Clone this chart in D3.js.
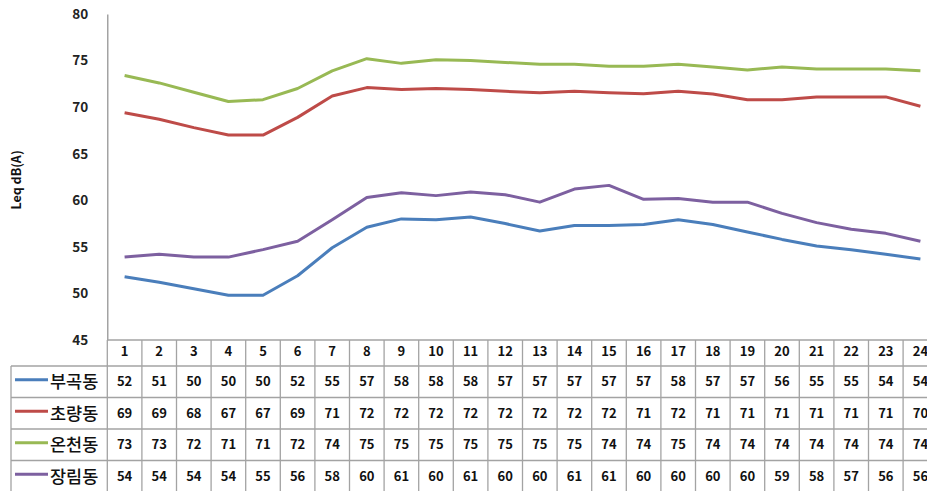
<!DOCTYPE html>
<html>
<head>
<meta charset="utf-8">
<script src="https://cdn.jsdelivr.net/npm/d3@7"></script>
<style>
body { margin: 0; background: #fff; }
text { font-family: "Noto Sans CJK KR", "DejaVu Sans", sans-serif; font-weight: bold; }
</style>
</head>
<body>
<div id="chart"></div>
<script>
// hours on the x axis
var hours = [1,2,3,4,5,6,7,8,9,10,11,12,13,14,15,16,17,18,19,20,21,22,23,24];
var names = ["부곡동", "초량동", "온천동", "장림동"];
var colors = ["#4a7ebb", "#be4b48", "#98b954", "#7d60a0"];

// line values
var bugok   = [51.8,51.2,50.5,49.8,49.8,51.9,54.9,57.1,58.0,57.9,58.2,57.5,56.7,57.3,57.3,57.4,57.9,57.4,56.6,55.8,55.1,54.7,54.2,53.7];
var choryang= [69.4,68.7,67.8,67.0,67.0,68.9,71.2,72.1,71.9,72.0,71.9,71.7,71.55,71.7,71.55,71.45,71.7,71.4,70.8,70.8,71.1,71.1,71.1,70.1];
var oncheon = [73.4,72.6,71.6,70.6,70.8,72.0,73.9,75.2,74.7,75.1,75.0,74.8,74.6,74.6,74.4,74.4,74.6,74.3,74.0,74.3,74.1,74.1,74.1,73.9];
var jangrim = [53.9,54.2,53.9,53.9,54.7,55.6,57.9,60.3,60.8,60.5,60.9,60.6,59.8,61.2,61.6,60.1,60.2,59.8,59.8,58.6,57.6,56.9,56.45,55.6];
var series = [bugok, choryang, oncheon, jangrim];

// values printed in the data table
var tBugok    = [52,51,50,50,50,52,55,57,58,58,58,57,57,57,57,57,58,57,57,56,55,55,54,54];
var tChoryang = [69,69,68,67,67,69,71,72,72,72,72,72,72,72,72,71,72,71,71,71,71,71,71,70];
var tOncheon  = [73,73,72,71,71,72,74,75,75,75,75,75,75,75,74,74,75,74,74,74,74,74,74,74];
var tJangrim  = [54,54,54,54,55,56,58,60,61,60,61,60,60,61,61,60,60,60,60,59,58,57,56,56];
var table = [tBugok, tChoryang, tOncheon, tJangrim];

var yTicks = [45,50,55,60,65,70,75,80];

var W = 927, H = 491;
var plotLeft = 107.3, colW = 34.6;
var plotTop = 14, plotBottom = 340;
var headH = 26, rowH = 31.5, legLeft = 11;
var gridColor = "#a3a3a3";

var svg = d3.select("#chart").append("svg")
  .attr("width", W).attr("height", H);

var x = d3.scaleBand().domain(hours).range([plotLeft, plotLeft + colW * hours.length]).padding(0);
var y = d3.scaleLinear().domain([45, 80]).range([plotBottom, plotTop]);

// y axis
var yAxis = svg.append("g")
  .attr("transform", "translate(" + plotLeft + ",0)")
  .call(d3.axisLeft(y).tickValues(yTicks).tickSize(0).tickPadding(19));
yAxis.select(".domain").attr("stroke", "#8c8c8c").attr("stroke-width", 1.2);
yAxis.selectAll("text").style("font-size", "13.5px").attr("fill", "#222");

svg.append("text")
  .attr("transform", "translate(21,180) rotate(-90)")
  .attr("text-anchor", "middle")
  .style("font-size", "12.5px")
  .attr("fill", "#111")
  .text("Leq dB(A)");

// header numbers under the plot
var xAxis = svg.append("g")
  .attr("transform", "translate(0," + plotBottom + ")")
  .call(d3.axisBottom(x).tickSize(0).tickPadding(7));
xAxis.select(".domain").remove();
xAxis.selectAll("text").style("font-size", "13px").attr("fill", "#111");

// table grid
var tableBottom = plotBottom + headH + rowH * names.length;
var grid = svg.append("g").attr("stroke", gridColor).attr("stroke-width", 1.3);
grid.append("line").attr("x1", plotLeft).attr("x2", W + 20).attr("y1", plotBottom).attr("y2", plotBottom);
grid.append("line").attr("x1", legLeft).attr("x2", W + 20).attr("y1", plotBottom + headH).attr("y2", plotBottom + headH);
names.forEach(function (n, i) {
  var yy = plotBottom + headH + rowH * (i + 1);
  grid.append("line").attr("x1", legLeft).attr("x2", W + 20).attr("y1", yy).attr("y2", yy);
});
hours.forEach(function (h) {
  grid.append("line").attr("x1", x(h)).attr("x2", x(h)).attr("y1", plotBottom).attr("y2", tableBottom);
});
grid.append("line").attr("x1", legLeft).attr("x2", legLeft).attr("y1", plotBottom + headH).attr("y2", tableBottom);

// legend cells and table values
names.forEach(function (n, i) {
  var cy = plotBottom + headH + rowH * i + rowH / 2;
  svg.append("line")
    .attr("x1", 15).attr("x2", 48).attr("y1", cy - 2).attr("y2", cy - 2)
    .attr("stroke", colors[i]).attr("stroke-width", 3);
  svg.append("text")
    .attr("x", 50).attr("y", cy).attr("dy", "0.36em")
    .style("font-size", "17.5px").style("font-weight", "500")
    .attr("fill", "#111")
    .text(n);
  svg.append("g").selectAll("text")
    .data(table[i])
    .enter()
    .append("text")
      .attr("x", function (d, j) { return x(hours[j]) + x.bandwidth() / 2; })
      .attr("y", cy).attr("dy", "0.36em")
      .attr("text-anchor", "middle")
      .style("font-size", "13px")
      .attr("fill", "#111")
      .text(function (d) { return d; });
});

// lines
var line = d3.line()
  .x(function (d, j) { return x(hours[j]) + x.bandwidth() / 2; })
  .y(function (d) { return y(d); });

series.forEach(function (s, i) {
  svg.append("path")
    .datum(s)
    .attr("fill", "none")
    .attr("stroke", colors[i])
    .attr("stroke-width", 3)
    .attr("stroke-linejoin", "round")
    .attr("d", line);
});
</script>
</body>
</html>
